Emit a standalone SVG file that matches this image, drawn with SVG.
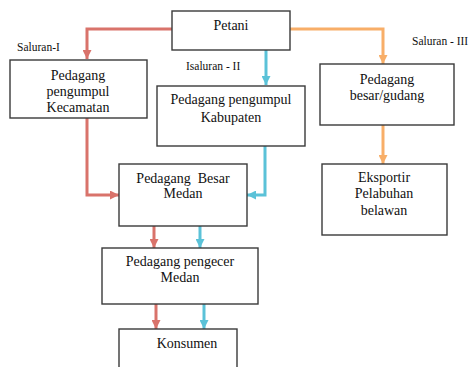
<svg xmlns="http://www.w3.org/2000/svg" width="469" height="367" viewBox="0 0 469 367">
<defs>
<style>
.box{fill:#fff;stroke:#3a3a3a;stroke-width:1.4}
.t{font-family:"Liberation Serif","Times New Roman",serif;font-size:14px;fill:#111;text-anchor:middle}
.lbl{font-family:"Liberation Serif","Times New Roman",serif;font-size:11.5px;fill:#111}
.r{fill:none;stroke:#D9736B;stroke-width:3}
.b{fill:none;stroke:#5BC2D8;stroke-width:3}
.o{fill:none;stroke:#F8AE68;stroke-width:3}
</style>
<marker id="ar" viewBox="0 0 10 10" refX="10" refY="5" markerWidth="9" markerHeight="9" markerUnits="userSpaceOnUse" orient="auto"><path d="M0,0L10,5L0,10z" fill="#D9736B"/></marker>
<marker id="ab" viewBox="0 0 10 10" refX="10" refY="5" markerWidth="9" markerHeight="9" markerUnits="userSpaceOnUse" orient="auto"><path d="M0,0L10,5L0,10z" fill="#5BC2D8"/></marker>
<marker id="ao" viewBox="0 0 10 10" refX="10" refY="5" markerWidth="9" markerHeight="9" markerUnits="userSpaceOnUse" orient="auto"><path d="M0,0L10,5L0,10z" fill="#F8AE68"/></marker>
</defs>
<rect width="469" height="367" fill="#fff"/>
<g id="connectors">
<path class="r" d="M172,29H87V59" marker-end="url(#ar)"/>
<path class="b" d="M266,50V85" marker-end="url(#ab)"/>
<path class="o" d="M290,29H383V64" marker-end="url(#ao)"/>
<path class="o" d="M383,125V164" marker-end="url(#ao)"/>
<path class="r" d="M87,118V195H119" marker-end="url(#ar)"/>
<path class="b" d="M265,146V195H247" marker-end="url(#ab)"/>
<path class="r" d="M154,226V248" marker-end="url(#ar)"/>
<path class="b" d="M200,226V248" marker-end="url(#ab)"/>
<path class="r" d="M156,304V329" marker-end="url(#ar)"/>
<path class="b" d="M204,304V329" marker-end="url(#ab)"/>
</g>
<g id="labels">
<text class="lbl" x="17" y="51">Saluran-I</text>
<text class="lbl" x="186" y="70">Isaluran - II</text>
<text class="lbl" x="412" y="45">Saluran - III</text>
</g>
<g id="petani">
<rect class="box" x="172" y="11" width="118" height="39"/>
<text class="t" x="231" y="30">Petani</text>
</g>
<g id="kecamatan">
<rect class="box" x="10" y="60" width="137" height="58"/>
<text class="t" x="78" y="80">Pedagang</text>
<text class="t" x="78" y="96">pengumpul</text>
<text class="t" x="78" y="112">Kecamatan</text>
</g>
<g id="kabupaten">
<rect class="box" x="157" y="86" width="148" height="60"/>
<text class="t" x="231" y="104">Pedagang pengumpul</text>
<text class="t" x="231" y="122">Kabupaten</text>
</g>
<g id="gudang">
<rect class="box" x="320" y="64" width="134" height="61"/>
<text class="t" x="387" y="84">Pedagang</text>
<text class="t" x="387" y="100">besar/gudang</text>
</g>
<g id="eksportir">
<rect class="box" x="322" y="164" width="125" height="71"/>
<text class="t" x="384" y="182">Eksportir</text>
<text class="t" x="384" y="198">Pelabuhan</text>
<text class="t" x="384" y="215">belawan</text>
</g>
<g id="besar-medan">
<rect class="box" x="119" y="164" width="128" height="62"/>
<text class="t" x="183" y="183" xml:space="preserve">Pedagang  Besar</text>
<text class="t" x="183" y="198">Medan</text>
</g>
<g id="pengecer">
<rect class="box" x="102" y="248" width="156" height="56"/>
<text class="t" x="180" y="266">Pedagang pengecer</text>
<text class="t" x="180" y="282">Medan</text>
</g>
<g id="konsumen">
<rect class="box" x="119" y="329" width="118" height="45"/>
<text class="t" x="187" y="348">Konsumen</text>
</g>
</svg>
